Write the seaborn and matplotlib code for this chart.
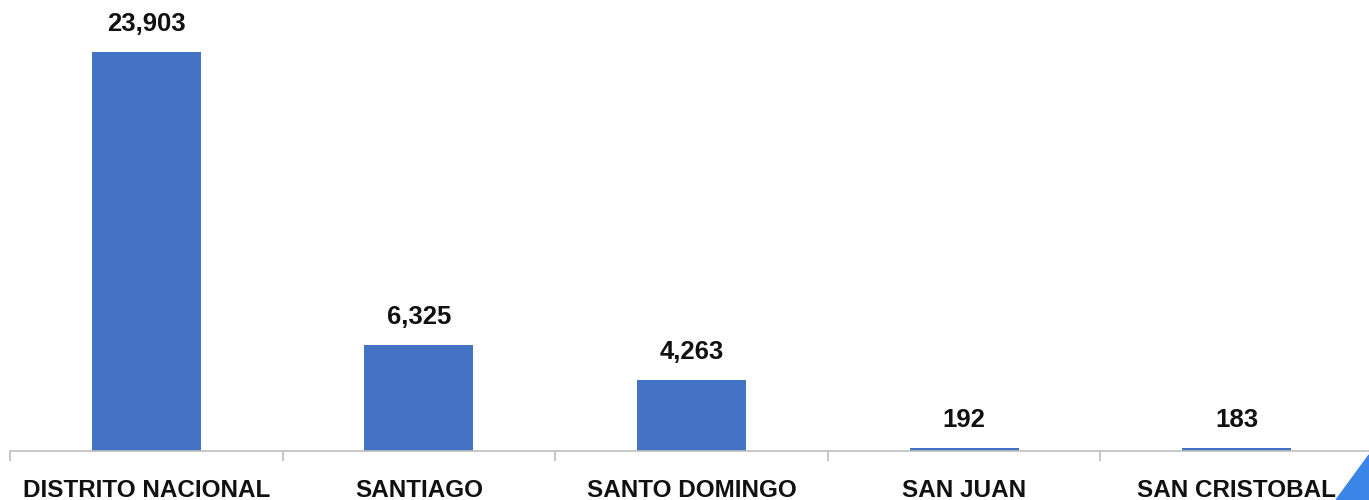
import matplotlib
matplotlib.use("Agg")
import matplotlib.pyplot as plt
import seaborn as sns
import pandas as pd
from matplotlib.patches import Polygon

provincias = ["DISTRITO NACIONAL", "SANTIAGO", "SANTO DOMINGO", "SAN JUAN", "SAN CRISTOBAL"]
casos = [23903, 6325, 4263, 192, 183]
etiquetas = ["23,903", "6,325", "4,263", "192", "183"]

df = pd.DataFrame({"provincia": provincias, "casos": casos})

sns.set_theme(style="white")
plt.rcParams["font.family"] = ["Liberation Sans", "DejaVu Sans"]

fig = plt.figure(figsize=(13.69, 5), dpi=100)
ax = fig.add_axes([10 / 1369, 49 / 500, 1363 / 1369, 451 / 500])

sns.barplot(data=df, x="provincia", y="casos", color="#4472C4", saturation=1,
            width=0.4, linewidth=0, ax=ax)

ax.set_xlim(-0.5, 4.5)
ax.set_ylim(0, 23903 * 451 / 399)

for i, (v, lab) in enumerate(zip(casos, etiquetas)):
    ax.annotate(lab, (i, v), xytext=(0, 11.5), textcoords="offset points",
                ha="center", va="bottom", fontsize=18.5, fontweight="bold",
                color="#111111")

for s in ["top", "right", "left"]:
    ax.spines[s].set_visible(False)
ax.spines["bottom"].set_color("#BFBFBF")
ax.spines["bottom"].set_linewidth(1.2)

ax.set_yticks([])
ax.set_xlabel("")
ax.set_ylabel("")
ax.set_xticks(range(len(provincias)))
ax.set_xticklabels(provincias, fontsize=17.5, fontweight="bold", color="#111111")
ax.tick_params(axis="x", which="major", length=0, pad=20)
ax.set_xticks([-0.5, 0.5, 1.5, 2.5, 3.5, 4.5], minor=True)
ax.tick_params(axis="x", which="minor", bottom=True, direction="out",
               length=7, width=1.2, color="#BFBFBF")

# blue corner decoration
fig.patches.append(Polygon([[1336 / 1369, 0], [1, 45 / 500], [1, 0]], closed=True,
                           transform=fig.transFigure, color="#3A86E8", zorder=5))

fig.savefig("out.png", dpi=100)
